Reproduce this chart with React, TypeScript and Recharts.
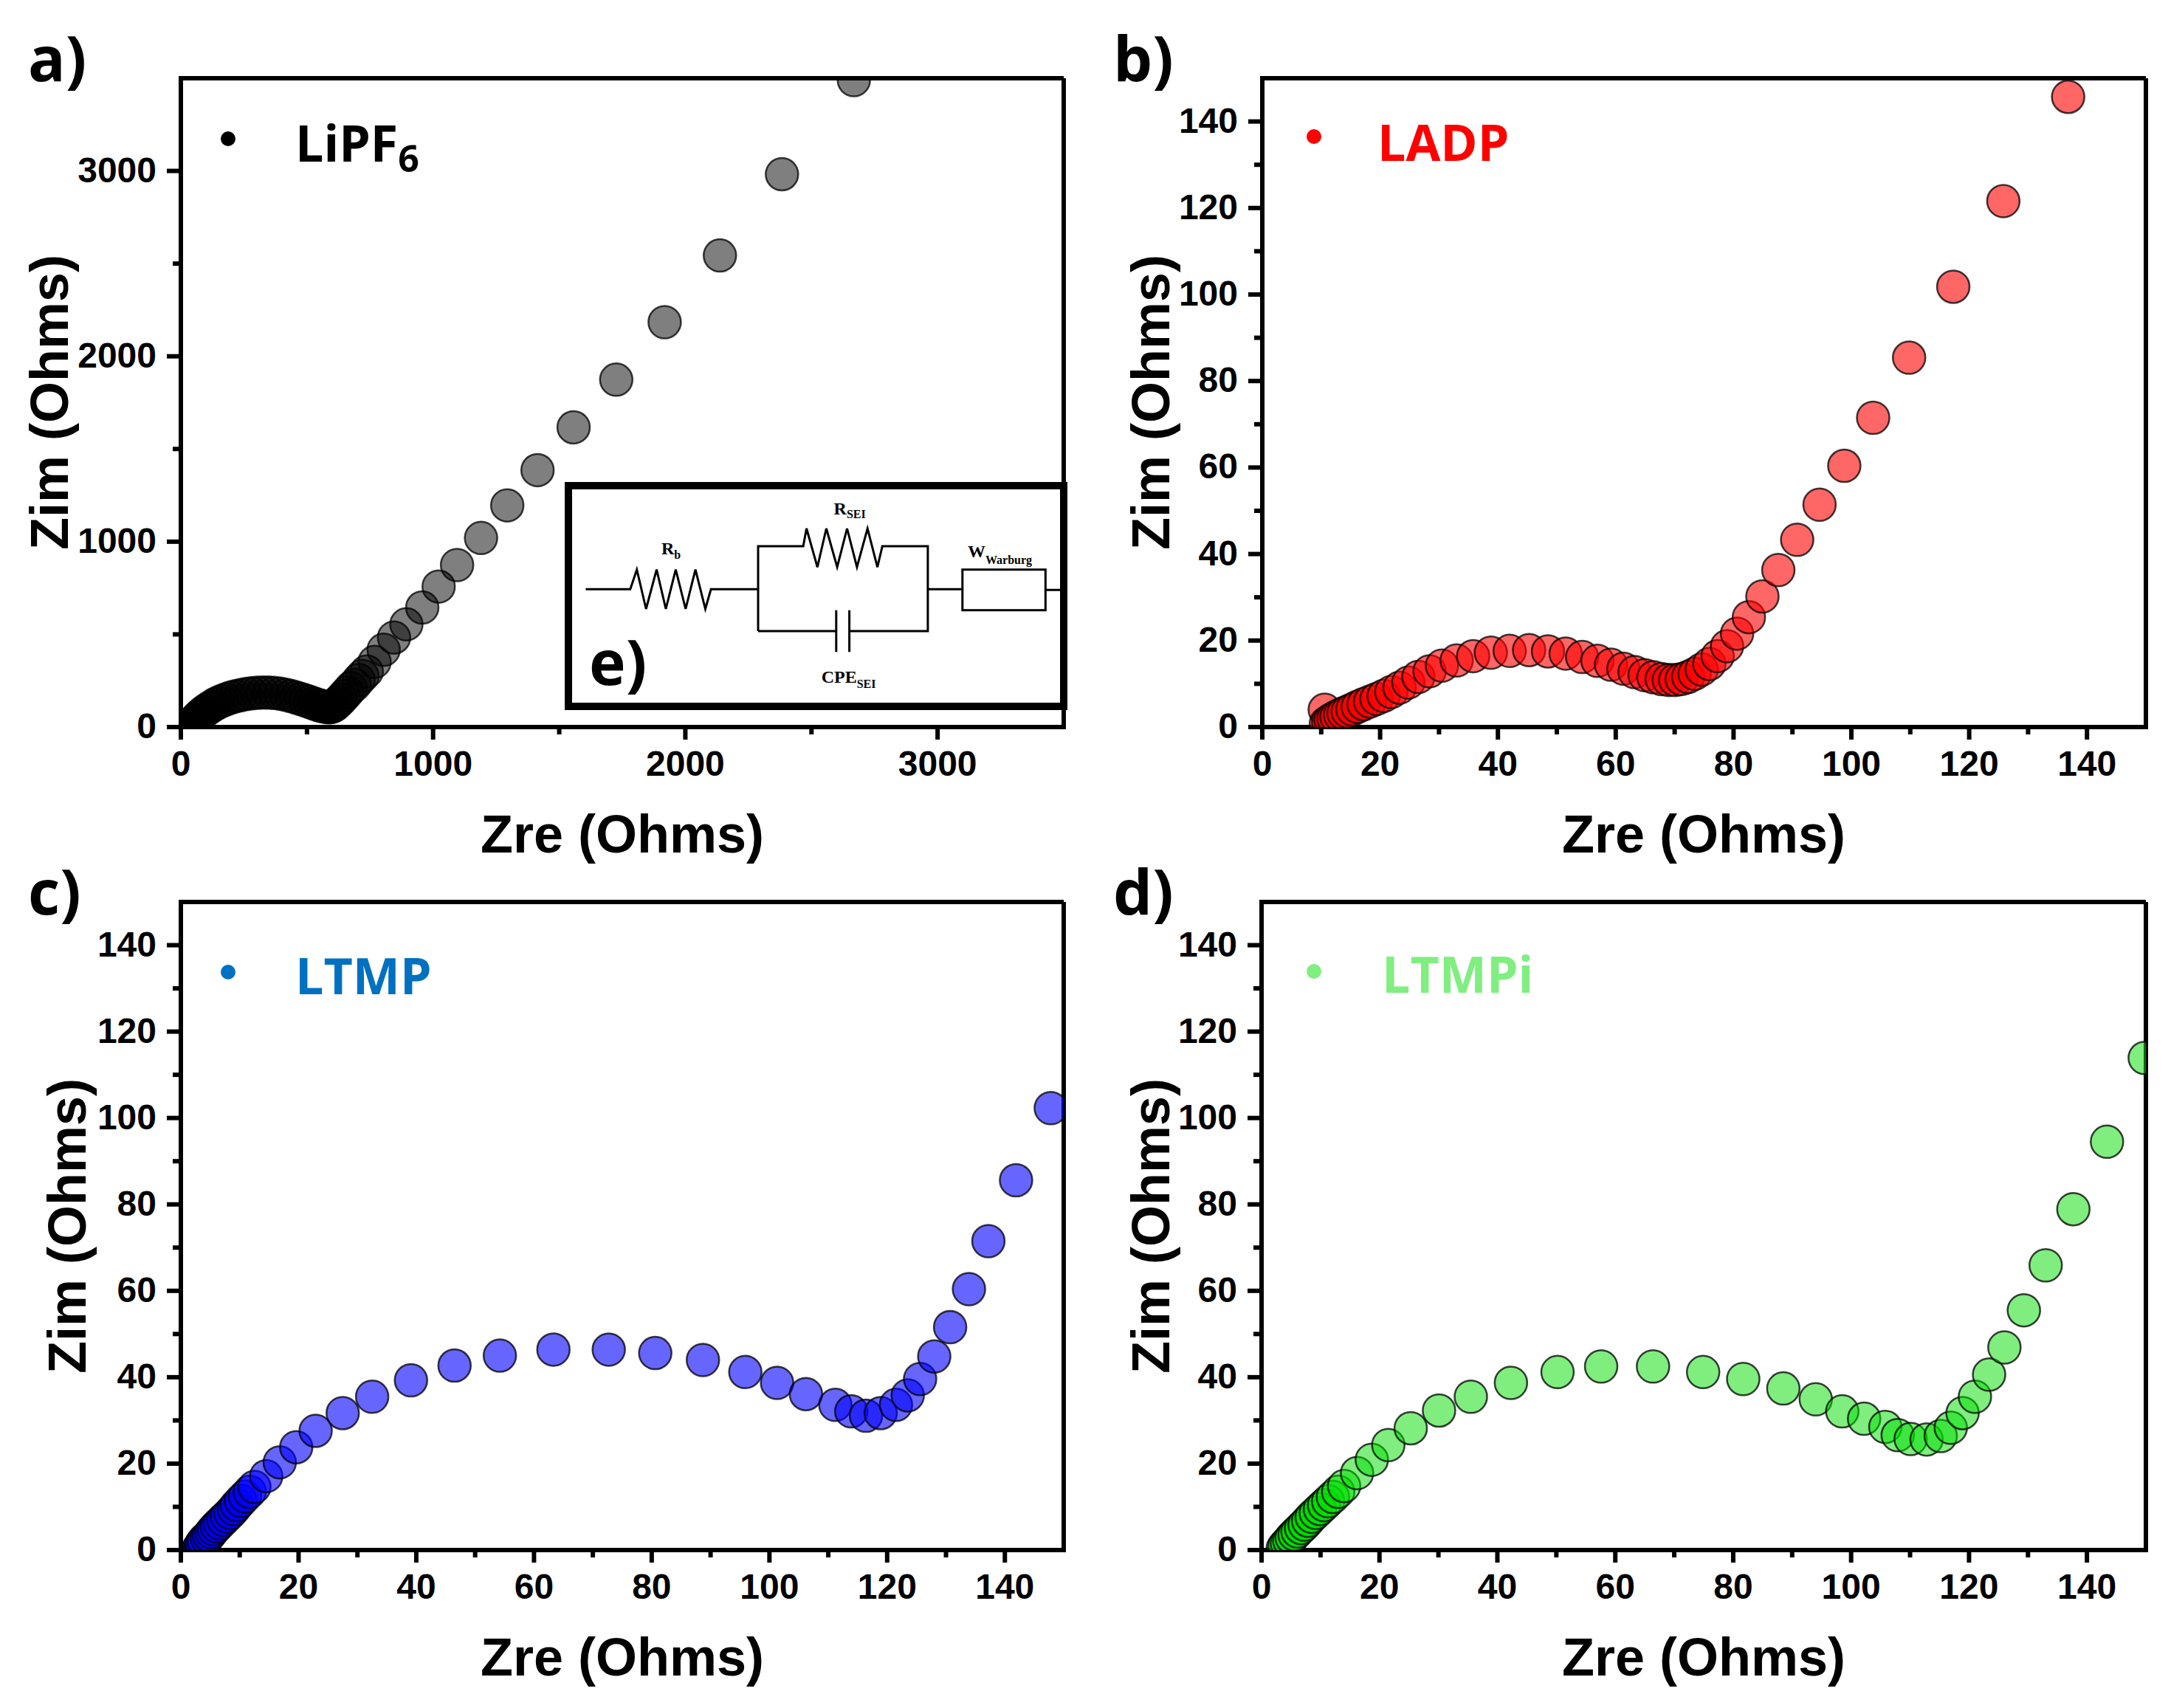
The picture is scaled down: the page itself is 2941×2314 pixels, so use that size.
import { ScatterChart, Scatter, XAxis, YAxis, ReferenceLine } from 'recharts'
import type { ReactNode } from 'react'

// a) LiPF6
const lipf6Zre = [40, 44, 48, 52, 55, 59, 63, 67, 72, 77, 82, 93, 105, 118, 132, 147, 163, 180, 198, 217, 237, 258, 280, 302, 325, 348, 371, 394, 416, 437, 457, 476, 494, 511, 527, 541, 554, 566, 577, 587, 596, 605, 614, 624, 635, 647, 660, 674, 689, 705, 720, 737, 768, 804, 845, 894, 957, 1022, 1095, 1190, 1294, 1414, 1557, 1726, 1918, 2137, 2383, 2668]
const lipf6Zim = [2, 10, 18, 25, 32, 38, 45, 51, 58, 64, 71, 84, 96, 108, 120, 131, 141, 150, 159, 166, 172, 178, 182, 185, 186, 186, 184, 180, 174, 167, 159, 151, 143, 135, 127, 120, 115, 111, 108, 107, 108, 113, 122, 135, 150, 168, 188, 210, 228, 254, 276, 300, 351, 417, 483, 554, 645, 758, 874, 1020, 1196, 1386, 1617, 1874, 2184, 2544, 2982, 3490]

// b) LADP
const ladpZre = [10.6, 10.8, 11.2, 11.6, 12.1, 12.6, 13.2, 13.8, 14.5, 15.3, 16.2, 17.2, 18.3, 19.4, 20.6, 21.9, 23.3, 24.8, 26.5, 28.4, 30.5, 33.0, 35.8, 38.8, 42.0, 45.3, 48.5, 51.5, 54.3, 56.9, 59.2, 61.3, 63.2, 64.9, 66.4, 67.8, 69.0, 70.1, 71.2, 72.3, 73.4, 74.6, 75.9, 77.3, 78.9, 80.6, 82.6, 84.9, 87.6, 90.8, 94.6, 98.8, 103.7, 109.8, 117.3, 125.8, 136.8]
const ladpZim = [4.0, 0.8, 1.2, 1.6, 2.0, 2.4, 2.8, 3.2, 3.6, 4.1, 4.7, 5.3, 5.9, 6.5, 7.2, 8.1, 9.1, 10.3, 11.6, 12.9, 14.2, 15.4, 16.4, 17.2, 17.6, 17.8, 17.5, 17.0, 16.2, 15.3, 14.4, 13.5, 12.7, 12.0, 11.5, 11.1, 10.9, 10.9, 11.1, 11.6, 12.3, 13.3, 14.6, 16.4, 18.7, 21.6, 25.4, 30.2, 36.3, 43.3, 51.4, 60.4, 71.5, 85.4, 101.8, 121.6, 145.7]

// c) LTMP
const ltmpZre = [3.0, 3.2, 3.4, 3.6, 3.9, 4.4, 4.8, 5.2, 5.6, 6.1, 6.6, 7.2, 7.8, 8.4, 9.0, 9.5, 10.2, 10.9, 11.7, 12.5, 14.5, 16.8, 19.6, 22.9, 27.5, 32.5, 39.1, 46.5, 54.2, 63.3, 72.7, 80.6, 88.7, 95.9, 101.3, 106.2, 111.2, 113.9, 116.4, 118.9, 121.5, 123.5, 125.6, 128.0, 130.7, 133.9, 137.2, 141.9, 147.8]
const ltmpZim = [0.3, 0.6, 1.1, 1.6, 2.2, 2.8, 3.4, 4.1, 4.8, 5.5, 6.2, 7.0, 7.8, 8.6, 9.5, 10.4, 11.4, 12.4, 13.5, 14.6, 17.1, 20.3, 23.8, 27.6, 31.7, 35.5, 39.3, 42.7, 45.0, 46.4, 46.4, 45.6, 44.0, 41.2, 38.7, 36.1, 33.6, 32.1, 31.1, 31.7, 33.6, 35.8, 39.6, 44.8, 51.6, 60.4, 71.5, 85.6, 102.3]

// d) LTMPi
const ltmpiZre = [3.6, 3.9, 4.3, 4.7, 5.1, 5.6, 6.1, 6.7, 7.3, 7.9, 8.5, 9.2, 9.9, 10.6, 11.3, 12.1, 13.0, 14.0, 16.2, 18.7, 21.5, 25.3, 30.1, 35.5, 42.3, 50.2, 57.6, 66.4, 74.9, 81.7, 88.5, 94.0, 98.5, 102.2, 105.8, 107.9, 110.1, 112.8, 115.2, 116.9, 118.9, 121.0, 123.4, 126.0, 129.3, 133.0, 137.7, 143.4, 149.8]
const ltmpiZim = [0.4, 1.0, 1.6, 2.2, 2.9, 3.6, 4.3, 5.1, 5.9, 6.8, 7.7, 8.6, 9.5, 10.4, 11.3, 12.3, 13.5, 14.8, 17.8, 20.9, 24.3, 28.2, 32.3, 35.5, 38.7, 41.2, 42.5, 42.5, 41.2, 39.6, 37.4, 34.9, 32.1, 30.4, 28.5, 26.6, 25.7, 25.6, 26.4, 28.3, 31.7, 35.5, 40.6, 46.9, 55.5, 65.9, 78.9, 94.5, 113.9]

const lipf6Ticks = [0, 500, 1000, 1500, 2000, 2500, 3000]
const lipf6Labels = [0, 1000, 2000, 3000]
const ohmTicks = [0, 10, 20, 30, 40, 50, 60, 70, 80, 90, 100, 110, 120, 130, 140]
const ohmLabels = [0, 20, 40, 60, 80, 100, 120, 140]

const toPoints = (xs: number[], ys: number[]) => xs.map((x, i) => ({ x, y: ys[i] }))

const arial = '"Liberation Sans", Arial, sans-serif'
const calibri = '"Open Sans", "Noto Sans", sans-serif'
const serif = '"Liberation Serif", "Times New Roman", serif'

const tickFont = { fontFamily: arial, fontWeight: 700, fontSize: 48 }
const titleFont = { fontFamily: arial, fontWeight: 700, fontSize: 72 }

function makeXTick(labels: number[]) {
  return (props: any) => {
    const { x, y, payload } = props
    const major = labels.includes(payload.value)
    return (
      <g>
        <line x1={x} x2={x} y1={y} y2={y + (major ? 17 : 10)} stroke="#000" strokeWidth={6} />
        {major && (
          <text x={x} y={y + 66} textAnchor="middle" style={tickFont}>
            {payload.value}
          </text>
        )}
      </g>
    )
  }
}

function makeYTick(labels: number[]) {
  return (props: any) => {
    const { x, y, payload } = props
    const major = labels.includes(payload.value)
    return (
      <g>
        <line x1={x - (major ? 19 : 11)} x2={x} y1={y} y2={y} stroke="#000" strokeWidth={6} />
        {major && (
          <text x={x - 33} y={y + 15} textAnchor="end" style={tickFont}>
            {payload.value}
          </text>
        )}
      </g>
    )
  }
}

interface PanelProps {
  left: number
  top: number
  width: number
  height: number
  plot: { left: number; top: number; right: number; bottom: number }
  data: { x: number; y: number }[]
  xMax: number
  yMax: number
  xTicks: number[]
  xLabels: number[]
  yTicks: number[]
  yLabels: number[]
  fill: string
  fillOpacity: number
  children?: ReactNode
}

function Panel(p: PanelProps) {
  const axisLine = { stroke: '#000', strokeWidth: 6, strokeLinecap: 'square' as const }
  return (
    <div style={{ position: 'absolute', left: p.left, top: p.top }}>
      <ScatterChart
        width={p.width}
        height={p.height}
        margin={{ top: p.plot.top, right: p.width - p.plot.right, bottom: 0, left: 0 }}
      >
        <XAxis
          type="number"
          dataKey="x"
          domain={[0, p.xMax]}
          ticks={p.xTicks}
          interval={0}
          allowDataOverflow
          tickSize={0}
          tickMargin={0}
          tickLine={false}
          tick={makeXTick(p.xLabels)}
          axisLine={axisLine}
          height={p.height - p.plot.bottom}
        />
        <YAxis
          type="number"
          dataKey="y"
          domain={[0, p.yMax]}
          ticks={p.yTicks}
          interval={0}
          allowDataOverflow
          tickSize={0}
          tickMargin={0}
          tickLine={false}
          tick={makeYTick(p.yLabels)}
          axisLine={axisLine}
          width={p.plot.left}
        />
        <ReferenceLine y={p.yMax} stroke="#000" strokeWidth={6} />
        <ReferenceLine x={p.xMax} stroke="#000" strokeWidth={6} />
        <Scatter
          data={p.data}
          isAnimationActive={false}
          shape={(s: any) => (
            <circle
              cx={s.cx}
              cy={s.cy}
              r={22}
              fill={p.fill}
              fillOpacity={p.fillOpacity}
              stroke="#000"
              strokeOpacity={0.75}
              strokeWidth={2.5}
            />
          )}
        />
        {p.children}
      </ScatterChart>
    </div>
  )
}

function Titles({ tag, tagY, yTitleX, yCenter, xCenter, xBase }: { tag: string; tagY: number; yTitleX: number; yCenter: number; xCenter: number; xBase: number }) {
  return (
    <g>
      <text x={38} y={tagY} style={{ fontFamily: calibri, fontWeight: 700, fontSize: 84 }}>{tag}</text>
      <text x={xCenter} y={xBase} textAnchor="middle" style={titleFont}>Zre (Ohms)</text>
      <text
        x={yTitleX}
        y={yCenter}
        textAnchor="middle"
        transform={`rotate(-90, ${yTitleX}, ${yCenter})`}
        style={titleFont}
      >
        Zim (Ohms)
      </text>
    </g>
  )
}

function Legend({ dotX, dotY, textX, textY, color, children }: { dotX: number; dotY: number; textX: number; textY: number; color: string; children: ReactNode }) {
  return (
    <g>
      <circle cx={dotX} cy={dotY} r={10} fill={color} />
      <text x={textX} y={textY} fill={color} style={{ fontFamily: calibri, fontWeight: 700, fontSize: 68 }}>
        {children}
      </text>
    </g>
  )
}

// equivalent circuit drawn in the LiPF6 panel (e)
function Circuit() {
  const line = { fill: 'none', stroke: '#000', strokeWidth: 3 }
  const lbl = { fontFamily: serif, fontWeight: 700, fontSize: 24 }
  return (
    <g>
      <rect x={770} y={658} width={671} height={299} fill="#fff" stroke="#000" strokeWidth={10} />
      <path
        {...line}
        d="M793.5,798.3 L853.8,798.3 L862.7,771.7 L875.2,825 L889.5,771.7 L902,825 L915.4,771.7 L928.8,825 L942.1,771.7 L955.5,825 L963.1,798.3 L1027,798.3"
      />
      <path
        {...line}
        d="M1027,855 L1027,740 L1088.1,740 L1092.6,716 L1107.3,768.3 L1119.4,716 L1134.1,768.3 L1147.5,716 L1160.9,768.3 L1175.2,716 L1188.6,768.3 L1195.3,740 L1256.9,740 L1256.9,855 L1150.6,855"
      />
      <path {...line} d="M1027,855 L1132.8,855 M1132.8,826.7 L1132.8,883.3 M1150.6,826.7 L1150.6,883.3" />
      <path {...line} d="M1256.9,798.3 L1303.8,798.3 M1416.3,799.3 L1441,799.3" />
      <rect {...line} x={1303.8} y={771.7} width={112.5} height={55} />
      <text x={896} y={751} style={lbl}>
        R<tspan dy={6} fontSize={16}>b</tspan>
      </text>
      <text x={1129.6} y={697} style={lbl}>
        R<tspan dy={5} fontSize={16}>SEI</tspan>
      </text>
      <text x={1311} y={755} style={lbl}>
        W<tspan dy={9} fontSize={16}>Warburg</tspan>
      </text>
      <text x={1112.7} y={925} style={lbl}>
        CPE<tspan dy={7} fontSize={16}>SEI</tspan>
      </text>
      <text x={798} y={928} style={{ fontFamily: calibri, fontWeight: 700, fontSize: 84 }}>e)</text>
    </g>
  )
}

export default function App() {
  const topPlotA = { left: 245, top: 106, right: 1441, bottom: 985 }
  const topPlotB = { left: 240, top: 106, right: 1437, bottom: 985 }
  const botPlotC = { left: 245, top: 72, right: 1441, bottom: 950 }
  const botPlotD = { left: 239, top: 72, right: 1437, bottom: 950 }
  return (
    <div style={{ position: 'absolute', left: 0, top: 0, width: 2941, height: 2314, background: '#fff' }}>
      <Panel
        left={0} top={0} width={1470} height={1200} plot={topPlotA}
        data={toPoints(lipf6Zre, lipf6Zim)} xMax={3500} yMax={3500}
        xTicks={lipf6Ticks} xLabels={lipf6Labels} yTicks={lipf6Ticks} yLabels={lipf6Labels}
        fill="#000" fillOpacity={0.5}
      >
        <Titles tag="a)" tagY={110} yTitleX={92} yCenter={545} xCenter={843} xBase={1155} />
        <Legend dotX={309} dotY={188} textX={400} textY={219} color="#000">
          LiPF<tspan fontSize={50} dy={14}>6</tspan>
        </Legend>
        <Circuit />
      </Panel>
      <Panel
        left={1470} top={0} width={1471} height={1200} plot={topPlotB}
        data={toPoints(ladpZre, ladpZim)} xMax={150} yMax={150}
        xTicks={ohmTicks} xLabels={ohmLabels} yTicks={ohmTicks} yLabels={ohmLabels}
        fill="#ff0000" fillOpacity={0.6}
      >
        <Titles tag="b)" tagY={110} yTitleX={114} yCenter={545} xCenter={838} xBase={1155} />
        <Legend dotX={310} dotY={185} textX={396} textY={218} color="#ff0000">LADP</Legend>
      </Panel>
      <Panel
        left={0} top={1150} width={1470} height={1164} plot={botPlotC}
        data={toPoints(ltmpZre, ltmpZim)} xMax={150} yMax={150}
        xTicks={ohmTicks} xLabels={ohmLabels} yTicks={ohmTicks} yLabels={ohmLabels}
        fill="#0000ff" fillOpacity={0.6}
      >
        <Titles tag="c)" tagY={89} yTitleX={116} yCenter={511} xCenter={843} xBase={1120} />
        <Legend dotX={309} dotY={167} textX={400} textY={197} color="#0070c0">LTMP</Legend>
      </Panel>
      <Panel
        left={1470} top={1150} width={1471} height={1164} plot={botPlotD}
        data={toPoints(ltmpiZre, ltmpiZim)} xMax={150} yMax={150}
        xTicks={ohmTicks} xLabels={ohmLabels} yTicks={ohmTicks} yLabels={ohmLabels}
        fill="#00dd00" fillOpacity={0.5}
      >
        <Titles tag="d)" tagY={89} yTitleX={114} yCenter={511} xCenter={838} xBase={1120} />
        <Legend dotX={310} dotY={166} textX={402} textY={195} color="#80ee80">LTMPi</Legend>
      </Panel>
    </div>
  )
}
